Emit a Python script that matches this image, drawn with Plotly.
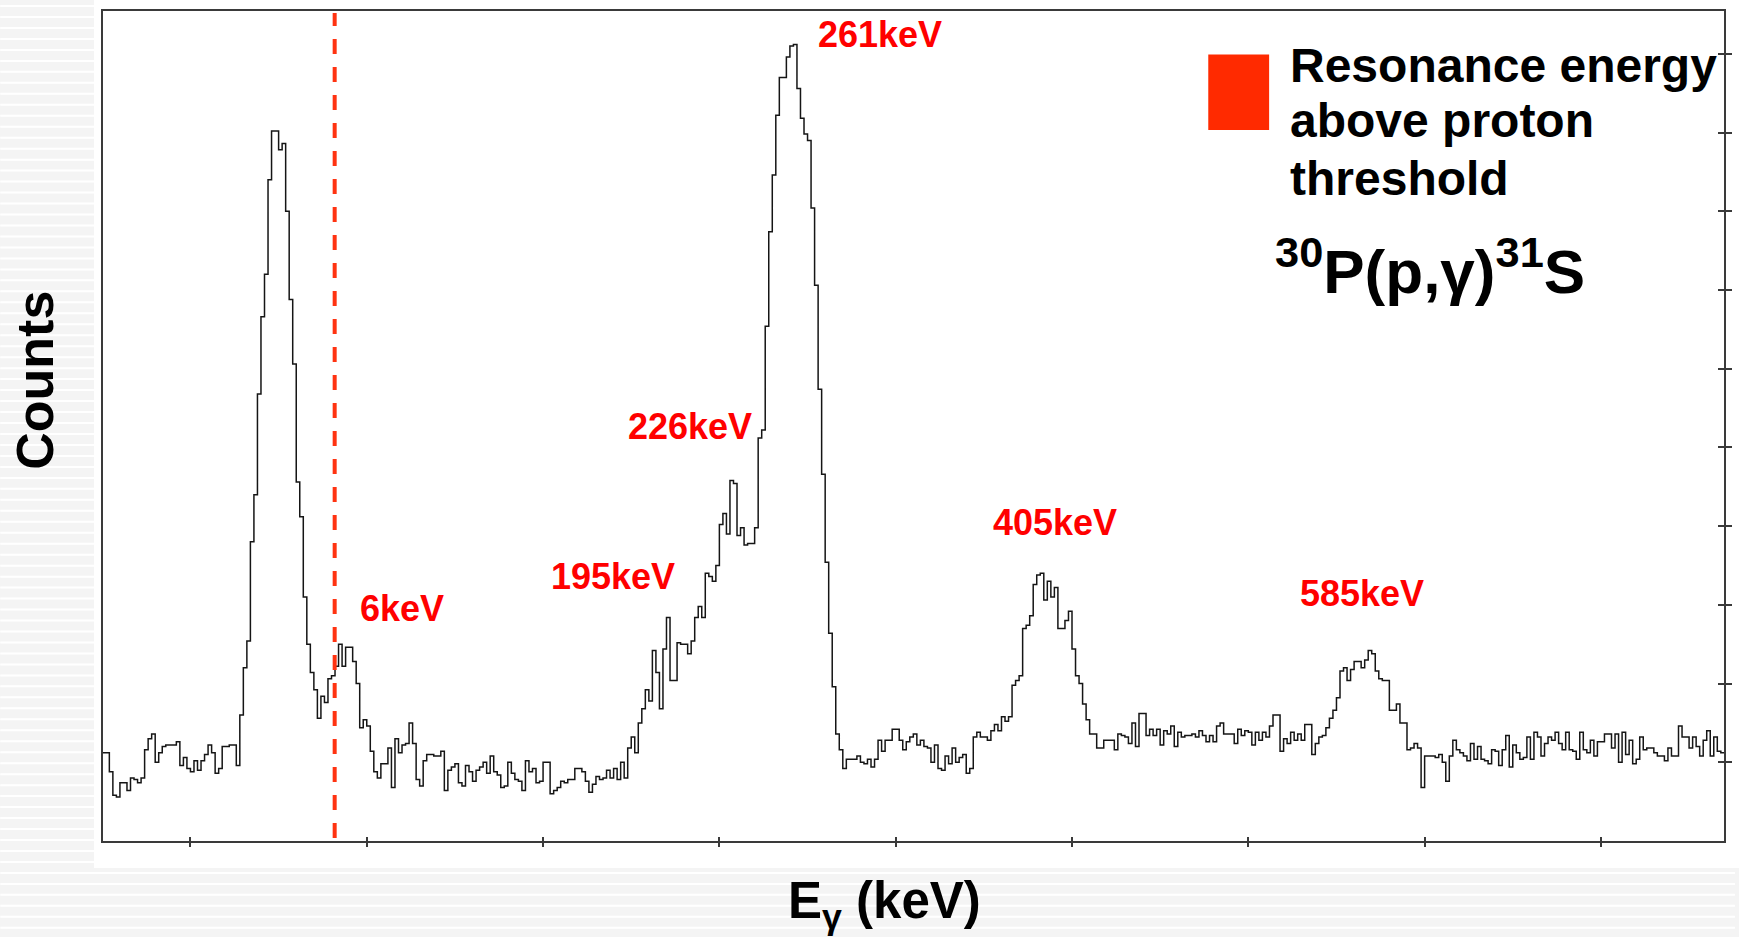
import plotly.graph_objects as go

# ---------------- data ----------------
FIRST_CHANNEL = 25          # left edge of first bin (channel units, 1 channel per bin)
counts = [
    56, 56, 44, 29, 28, 37, 37, 32, 40, 39,
    37, 40, 58, 65, 68, 50, 56, 60, 61, 61,
    61, 63, 48, 53, 46, 44, 51, 45, 51, 55,
    61, 56, 43, 46, 60, 60, 61, 61, 48, 80,
    110, 127, 190, 220, 284, 333, 360, 420, 451, 451,
    439, 443, 400, 344, 303, 228, 206, 155, 125, 107,
    96, 78, 92, 88, 103, 105, 111, 125, 111, 123,
    123, 114, 100, 72, 77, 73, 57, 44, 40, 49,
    49, 59, 34, 65, 56, 61, 62, 75, 62, 39,
    35, 51, 55, 55, 54, 54, 57, 32, 45, 47,
    49, 37, 35, 48, 44, 38, 45, 47, 50, 43,
    54, 44, 42, 34, 35, 50, 43, 39, 38, 32,
    51, 44, 46, 37, 38, 50, 50, 30, 32, 34,
    38, 37, 39, 39, 46, 46, 44, 38, 31, 36,
    41, 39, 40, 45, 40, 46, 39, 50, 40, 59,
    66, 56, 75, 84, 96, 89, 121, 107, 84, 122,
    142, 102, 102, 126, 125, 125, 119, 127, 142, 149,
    142, 170, 168, 165, 175, 201, 208, 195, 229, 227,
    194, 199, 188, 189, 189, 199, 256, 261, 327, 387,
    423, 461, 485, 485, 498, 505, 506, 478, 459, 449,
    445, 402, 353, 287, 233, 177, 132, 98, 68, 58,
    46, 52, 52, 52, 54, 50, 49, 52, 47, 52,
    64, 57, 64, 64, 71, 71, 64, 58, 63, 66,
    68, 61, 64, 60, 59, 50, 61, 46, 45, 54,
    49, 59, 50, 53, 55, 43, 46, 66, 69, 66,
    66, 64, 70, 74, 70, 79, 76, 79, 99, 102,
    105, 135, 137, 143, 163, 169, 170, 153, 165, 155,
    161, 135, 135, 140, 146, 122, 105, 100, 87, 77,
    68, 68, 59, 59, 64, 64, 64, 58, 68, 67,
    66, 62, 75, 60, 81, 81, 67, 71, 67, 71,
    61, 70, 68, 73, 60, 69, 66, 67, 67, 68,
    66, 70, 67, 63, 67, 63, 73, 75, 68, 68,
    68, 62, 71, 67, 70, 69, 61, 69, 64, 69,
    66, 73, 80, 80, 57, 65, 62, 69, 64, 68,
    64, 74, 74, 55, 62, 66, 67, 72, 78, 83,
    91, 108, 110, 102, 109, 114, 114, 110, 115, 121,
    119, 108, 103, 102, 102, 83, 83, 87, 75, 75,
    58, 59, 62, 59, 34, 54, 54, 54, 53, 55,
    50, 38, 54, 64, 58, 56, 54, 51, 62, 52,
    60, 52, 51, 49, 58, 57, 48, 58, 67, 47,
    61, 56, 52, 53, 66, 52, 69, 66, 54, 62,
    66, 64, 69, 62, 58, 69, 58, 57, 52, 69,
    58, 56, 64, 54, 63, 63, 68, 68, 59, 68,
    50, 69, 55, 64, 49, 52, 66, 58, 59, 59,
    56, 54, 54, 51, 59, 54, 54, 73, 66, 66,
    59, 66, 60, 54, 64, 70, 54, 66, 57, 56,
]
x_range = [25.2, 484.9]
y_range = [0, 527.2]
x_tick_channels = [50, 100, 150, 200, 250, 300, 350, 400, 450]
y_tick_counts = [50, 100, 150, 200, 250, 300, 350, 400, 450, 500]

threshold_channel = 90.9     # proton threshold (dashed line)

label_texts = ["6keV", "195keV", "226keV", "261keV", "405keV", "585keV"]
label_channels = [97.6, 151.7, 173.4, 227.5, 276.9, 364.0]
label_counts = [148, 168, 263, 512, 202, 157.5]

legend_lines = ["Resonance energy", "above proton", "threshold"]
reaction_text = "<sup>30</sup>P(p,γ)<sup>31</sup>S"

# ---------------- layout helpers ----------------
W, H = 1739, 937
L, R, T, B = 103, 11, 9, 96
PW = W - L - R
PH = H - T - B


def px(x):
    return (x - L) / PW


def py(y):
    return (H - B - y) / PH


FONT = "Liberation Sans, Arial, Helvetica, sans-serif"
AXC = "#3a3a3a"

edges = list(range(FIRST_CHANNEL, FIRST_CHANNEL + len(counts) + 1))
fig = go.Figure()
fig.add_trace(go.Scatter(
    x=edges, y=counts + [counts[-1]], mode="lines",
    line=dict(shape="hv", color="#151515", width=1.5),
    hoverinfo="skip", showlegend=False,
))
# overlay axes only used to draw inward halves of the crossing ticks
fig.add_trace(go.Scatter(x=[None], y=[None], xaxis="x2", yaxis="y2",
                         mode="lines", showlegend=False, hoverinfo="skip"))

shapes = []
# page background (striped light grey outside the white slide area)
shapes.append(dict(type="rect", xref="paper", yref="paper", layer="below",
                   x0=px(94), x1=px(W + 5), y0=py(868), y1=py(-5),
                   fillcolor="white", line=dict(width=0)))
path = ""
for yy in range(4, H, 11):
    xe = 94 if yy < 868 else W
    path += f"M{px(0)},{py(yy)} L{px(xe)},{py(yy)} "
shapes.append(dict(type="path", xref="paper", yref="paper", layer="below",
                   path=path, line=dict(color="white", width=2)))
# proton threshold
shapes.append(dict(type="line", xref="x", yref="paper",
                   x0=threshold_channel, x1=threshold_channel,
                   y0=py(838), y1=py(11),
                   line=dict(color="#ff3311", width=4, dash="15px,13px"),
                   layer="above"))
# legend square
shapes.append(dict(type="rect", xref="paper", yref="paper",
                   x0=px(1211), x1=px(1272), y0=py(128.3), y1=py(52.7),
                   fillcolor="#ff2a00", line=dict(width=0)))

annotations = []
for t, cx, cy in zip(label_texts, label_channels, label_counts):
    annotations.append(dict(text=t, x=cx, y=cy, xref="x", yref="y",
                            xanchor="left", yanchor="middle", showarrow=False,
                            font=dict(family=FONT, size=36, color="#ff0000", weight="bold")))
for t, yy in zip(legend_lines, [63.3, 119.2, 177.2]):
    annotations.append(dict(text=t, x=px(1291), y=py(yy), xref="paper", yref="paper",
                            xanchor="left", yanchor="middle", showarrow=False,
                            font=dict(family=FONT, size=48, color="black", weight="bold")))
annotations.append(dict(text=reaction_text, x=px(1276), y=py(266), xref="paper", yref="paper",
                        xanchor="left", yanchor="middle", showarrow=False,
                        font=dict(family=FONT, size=62, color="black", weight="bold")))
annotations.append(dict(text="Counts", x=px(34.5), y=py(379), xref="paper", yref="paper",
                        xanchor="center", yanchor="middle", textangle=-90, showarrow=False,
                        font=dict(family=FONT, size=52, color="black", weight="bold")))
annotations.append(dict(text="E<sub>γ</sub> (keV)", x=px(886.5), y=py(905),
                        xref="paper", yref="paper", xanchor="center", yanchor="middle",
                        showarrow=False,
                        font=dict(family=FONT, size=51, color="black", weight="bold")))

axis_common = dict(showgrid=False, zeroline=False, showticklabels=False)
fig.update_layout(
    width=W, height=H,
    margin=dict(l=L, r=R, t=T, b=B, pad=0),
    paper_bgcolor="#f4f4f4", plot_bgcolor="white",
    showlegend=False, hovermode=False,
    xaxis=dict(range=x_range, showline=True, linecolor=AXC, linewidth=2, mirror=True,
               ticks="outside", ticklen=4, tickwidth=1.5, tickcolor=AXC,
               tickvals=x_tick_channels, **axis_common),
    yaxis=dict(range=y_range, side="right", showline=True, linecolor=AXC, linewidth=2,
               mirror=True, ticks="outside", ticklen=6, tickwidth=1.5, tickcolor=AXC,
               tickvals=y_tick_counts, **axis_common),
    xaxis2=dict(range=x_range, overlaying="x", anchor="y2", side="bottom",
                showline=False, ticks="inside", ticklen=4, tickwidth=1.5, tickcolor=AXC,
                tickvals=x_tick_channels, **axis_common),
    yaxis2=dict(range=y_range, overlaying="y", anchor="x2", side="right",
                showline=False, ticks="inside", ticklen=6, tickwidth=1.5, tickcolor=AXC,
                tickvals=y_tick_counts, **axis_common),
    shapes=shapes, annotations=annotations,
)
fig.write_html("out.html")
